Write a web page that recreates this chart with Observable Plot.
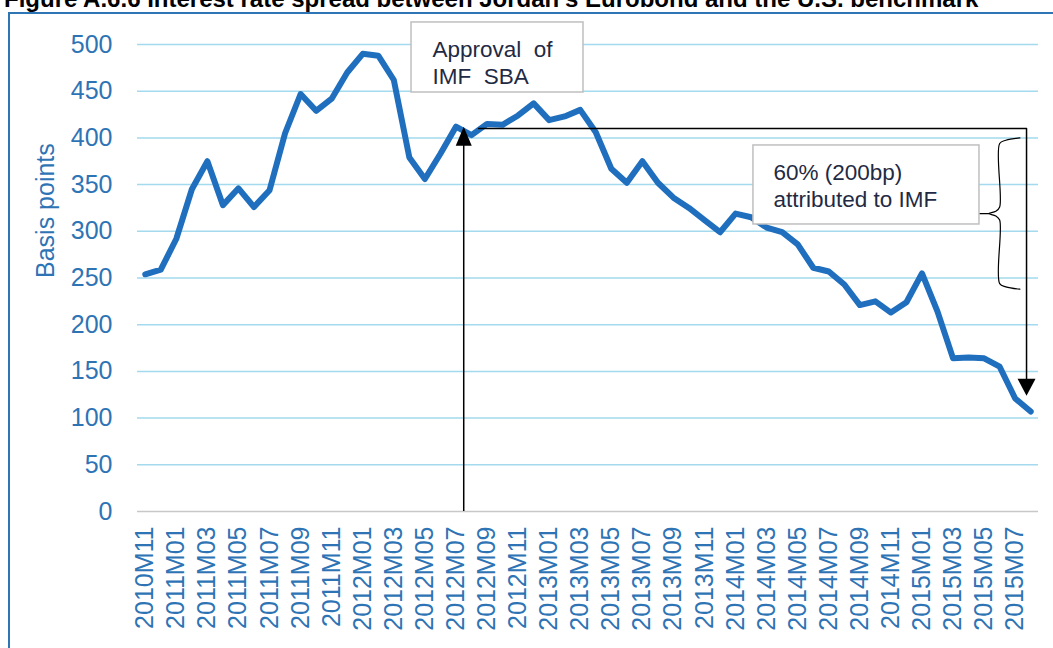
<!DOCTYPE html>
<html><head><meta charset="utf-8">
<script src="https://cdn.jsdelivr.net/npm/d3@7"></script>
<script src="https://cdn.jsdelivr.net/npm/@observablehq/plot@0.6"></script>
<style>
body{margin:0;background:#fff;width:1053px;height:648px;overflow:hidden;position:relative;font-family:"Liberation Sans",Arial,sans-serif;}
#title{position:absolute;left:4px;top:-13px;font-weight:bold;font-size:24px;line-height:24px;white-space:nowrap;color:#000;}
#frame{position:absolute;left:8px;top:12px;width:1100px;height:700px;border-left:2px solid #2e75b6;border-top:2px solid #2e75b6;}
#chart{position:absolute;left:0;top:0;}
</style></head><body>
<div id="title">Figure A.6.6 Interest rate spread between Jordan's Eurobond and the U.S. benchmark</div>
<div id="frame"></div>
<div id="chart"></div>
<script>
// ---- data ----
const months = [
  "2010M11","2010M12",
  "2011M01","2011M02","2011M03","2011M04","2011M05","2011M06","2011M07","2011M08","2011M09","2011M10","2011M11","2011M12",
  "2012M01","2012M02","2012M03","2012M04","2012M05","2012M06","2012M07","2012M08","2012M09","2012M10","2012M11","2012M12",
  "2013M01","2013M02","2013M03","2013M04","2013M05","2013M06","2013M07","2013M08","2013M09","2013M10","2013M11","2013M12",
  "2014M01","2014M02","2014M03","2014M04","2014M05","2014M06","2014M07","2014M08","2014M09","2014M10","2014M11","2014M12",
  "2015M01","2015M02","2015M03","2015M04","2015M05","2015M06","2015M07","2015M08"
];
const spread = [
  254,259,
  292,345,375,328,346,326,344,405,447,429,442,470,
  490,488,462,379,356,383,412,403,415,414,424,437,
  419,423,430,406,367,352,375,352,336,325,312,299,
  319,315,304,299,286,261,257,243,221,225,213,224,
  255,214,164,165,164,155,121,107
];
const yTicks = [0,50,100,150,200,250,300,350,400,450,500];
const xTickIndex = months.map((m,i)=>i).filter(i=>i%2===0);
const yLabel = "Basis points";
const note1 = "Approval\u00a0\u00a0of\nIMF\u00a0\u00a0SBA";
const note2 = "60% (200bp)\nattributed to IMF";

// ---- styles ----
const blue = "#2e74b5";
const lineBlue = "#1f6fbe";
const gridBlue = "#a3daee";
const font = "'Liberation Sans', Arial, sans-serif";

const data = months.map((m,i)=>({i, month:m, value:spread[i]}));

// annotation geometry (data coordinates: x = month index, y = basis points)
const box1 = {x1:17.14, x2:28.21, y1:448.6, y2:523.6};
const box2 = {x1:39.15, x2:53.70, y1:307.3, y2:391.9};
const headUp = {draw(ctx){ctx.moveTo(0,0);ctx.lineTo(8,19);ctx.lineTo(-8,19);ctx.closePath();}};
const headDown = {draw(ctx){ctx.moveTo(0,0);ctx.lineTo(9,-17);ctx.lineTo(-9,-17);ctx.closePath();}};
const bracket = [[56.3,400],[55.4,397.5],[55.0,394],[55.0,326],[54.75,321.5],[54.3,319],[54.75,316.5],[55.0,312],[55.0,244],[55.4,240.5],[56.3,238]];

const chart = Plot.plot({
  width:1053, height:648,
  marginLeft:137, marginRight:15, marginTop:44, marginBottom:137,
  style:{fontFamily:font, background:"transparent", overflow:"visible"},
  x:{type:"linear", domain:[-0.5,57.5]},
  y:{domain:[0,500]},
  marks:[
    Plot.ruleY(yTicks.filter(v=>v>0), {stroke:gridBlue, strokeWidth:1.5}),
    Plot.ruleY([0], {stroke:"#c8c8c8", strokeWidth:1.5}),
    Plot.axisY(yTicks, {tickSize:0, tickPadding:25, fontSize:25, color:blue, label:null}),
    Plot.axisX(xTickIndex, {tickFormat:i=>months[i], tickRotate:-90, tickSize:0, tickPadding:15, fontSize:25, color:blue, label:null}),
    Plot.text([{y:250}], {y:"y", frameAnchor:"left", dx:-92, rotate:-90, text:()=>yLabel, fontSize:25, fill:blue}),
    Plot.line(data, {x:"i", y:"value", stroke:lineBlue, strokeWidth:6, strokeLinejoin:"round", strokeLinecap:"round"}),
    // arrows
    Plot.ruleX([20.5], {y1:0, y2:395, stroke:"#000", strokeWidth:1.5}),
    Plot.dot([{x:20.5,y:412}], {x:"x", y:"y", symbol:headUp, fill:"#000", stroke:null}),
    Plot.line([[21.45,410],[56.73,410],[56.73,142]], {stroke:"#000", strokeWidth:1.5}),
    Plot.dot([{x:56.73,y:124}], {x:"x", y:"y", symbol:headDown, fill:"#000", stroke:null}),
    // bracket
    Plot.line(bracket, {stroke:"#000", strokeWidth:1.2, curve:"catmull-rom"}),
    Plot.line([[53.70,319],[54.3,319]], {stroke:"#000", strokeWidth:1.2}),
    // boxes
    Plot.rect([box1], {x1:"x1", x2:"x2", y1:"y1", y2:"y2", fill:"#fff", stroke:"#bfbfbf", strokeWidth:1.5}),
    Plot.text([{x:18.49, y:481.3}], {x:"x", y:"y", text:()=>note1, textAnchor:"start", lineAnchor:"middle", lineHeight:1.2, fontSize:22.5, fill:"#1f2a44"}),
    Plot.rect([box2], {x1:"x1", x2:"x2", y1:"y1", y2:"y2", fill:"#fff", stroke:"#bfbfbf", strokeWidth:1.5}),
    Plot.text([{x:40.44, y:350.1}], {x:"x", y:"y", text:()=>note2, textAnchor:"start", lineAnchor:"middle", lineHeight:1.2, fontSize:22.5, fill:"#1f2a44"})
  ]
});
document.getElementById("chart").appendChild(chart);
</script>
</body></html>
